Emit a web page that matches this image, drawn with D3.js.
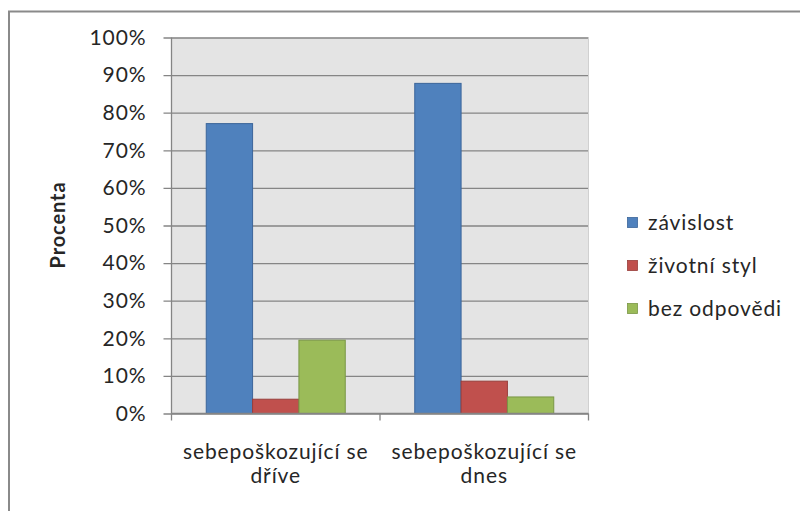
<!DOCTYPE html>
<html>
<head>
<meta charset="utf-8">
<script src="https://cdn.jsdelivr.net/npm/d3@7"></script>
<style>
  html, body { margin: 0; padding: 0; background: #fff; }
  svg { display: block; }
  text { font-family: Lato, "Open Sans", sans-serif; fill: #262626; letter-spacing: 0.9px; }
</style>
</head>
<body>
<svg id="chart" width="800" height="511"></svg>
<script>
// Categories (two lines per label) and series values in percent
const categories = ["sebepoškozující se dříve", "sebepoškozující se dnes"];
const categoryLines = [["sebepoškozující se", "dříve"], ["sebepoškozující se", "dnes"]];
const seriesNames = ["závislost", "životní styl", "bez odpovědi"];
const zavislost = [77.1, 87.8];
const zivotniStyl = [3.8, 8.6];
const bezOdpovedi = [19.5, 4.4];
const yTicks = [0, 10, 20, 30, 40, 50, 60, 70, 80, 90, 100];
const yTitle = "Procenta";

const seriesValues = [zavislost, zivotniStyl, bezOdpovedi];
const fills = ["#4F81BD", "#C0504D", "#9BBB59"];
const strokes = ["#3B659A", "#983E3B", "#7A9645"];

const svg = d3.select("#chart");

// outer chart frame (runs off the right and bottom edge)
svg.append("rect")
  .attr("x", 9).attr("y", 11.5)
  .attr("width", 820).attr("height", 520)
  .attr("fill", "none").attr("stroke", "#8a8a8a").attr("stroke-width", 2);

const plot = { left: 171.5, top: 37.5, right: 588.5, bottom: 413.5 };

const x0 = d3.scaleBand().domain(categories).range([plot.left, plot.right]);
const x1 = d3.scaleBand().domain(seriesNames)
  .range([0, x0.bandwidth()]).paddingOuter(0.75).paddingInner(0);
const y = d3.scaleLinear().domain([0, 100]).range([plot.bottom, plot.top]);

// plot background
svg.append("rect")
  .attr("x", plot.left).attr("y", plot.top)
  .attr("width", plot.right - plot.left).attr("height", plot.bottom - plot.top)
  .attr("fill", "#e4e4e4");

// horizontal gridlines with outside ticks
const yAxis = d3.axisLeft(y).tickValues(yTicks)
  .tickSize(-(plot.right - plot.left)).tickPadding(25)
  .tickFormat(d => d + "%");
const gy = svg.append("g").attr("transform", `translate(${plot.left},0)`).call(yAxis);
gy.select(".domain").remove();
gy.selectAll(".tick line")
  .attr("x1", -8)
  .attr("stroke", "#858585").attr("stroke-width", 1.3);
gy.selectAll(".tick text")
  .attr("font-size", 21).attr("font-family", "Lato, sans-serif").attr("fill", "#262626");

// right edge of plot area
svg.append("line")
  .attr("x1", plot.right).attr("x2", plot.right)
  .attr("y1", plot.top).attr("y2", plot.bottom)
  .attr("stroke", "#d0d0d0").attr("stroke-width", 1);

// bars
const groups = svg.append("g").selectAll("g")
  .data(categories).join("g")
  .attr("transform", d => `translate(${x0(d)},0)`);
groups.selectAll("rect")
  .data((c, ci) => seriesNames.map((s, si) => ({ s, si, v: seriesValues[si][ci] })))
  .join("rect")
  .attr("x", d => x1(d.s))
  .attr("y", d => y(d.v))
  .attr("width", x1.bandwidth())
  .attr("height", d => y(0) - y(d.v))
  .attr("fill", d => fills[d.si])
  .attr("stroke", d => strokes[d.si]).attr("stroke-width", 1);

// vertical axis line
svg.append("line")
  .attr("x1", plot.left).attr("x2", plot.left)
  .attr("y1", plot.top).attr("y2", plot.bottom)
  .attr("stroke", "#858585").attr("stroke-width", 1.3);

// category axis with ticks at band boundaries
const xAxisG = svg.append("g");
xAxisG.append("line")
  .attr("x1", plot.left).attr("x2", plot.right)
  .attr("y1", plot.bottom).attr("y2", plot.bottom)
  .attr("stroke", "#858585").attr("stroke-width", 1.3);
const bounds = categories.map(c => x0(c)).concat([x0(categories[categories.length - 1]) + x0.bandwidth()]);
xAxisG.selectAll(".btick").data(bounds).join("line")
  .attr("x1", d => d).attr("x2", d => d)
  .attr("y1", plot.bottom).attr("y2", plot.bottom + 7)
  .attr("stroke", "#858585").attr("stroke-width", 1.3);

categories.forEach((c, i) => {
  const cx = x0(c) + x0.bandwidth() / 2;
  const t = svg.append("text")
    .attr("x", cx)
    .attr("y", 459)
    .attr("text-anchor", "middle")
    .attr("font-size", 21);
  categoryLines[i].forEach((ln, k) => {
    t.append("tspan").attr("x", cx)
      .attr("dy", k === 0 ? 0 : 24).text(ln);
  });
});

// axis title
svg.append("text")
  .attr("transform", "translate(65,225) rotate(-90)")
  .attr("text-anchor", "middle")
  .attr("font-size", 20).attr("font-weight", "bold")
  .attr("fill", "#111")
  .text(yTitle);

// legend
const legend = svg.append("g");
seriesNames.forEach((s, i) => {
  const ly = [223, 266, 309][i];
  legend.append("rect")
    .attr("x", 627.5).attr("y", ly - 5.5)
    .attr("width", 10).attr("height", 10)
    .attr("fill", fills[i]).attr("stroke", strokes[i]).attr("stroke-width", 0.8);
  legend.append("text")
    .attr("x", 648).attr("y", ly)
    .attr("dy", "0.35em")
    .attr("font-size", 21)
    .text(s);
});
</script>
</body>
</html>
